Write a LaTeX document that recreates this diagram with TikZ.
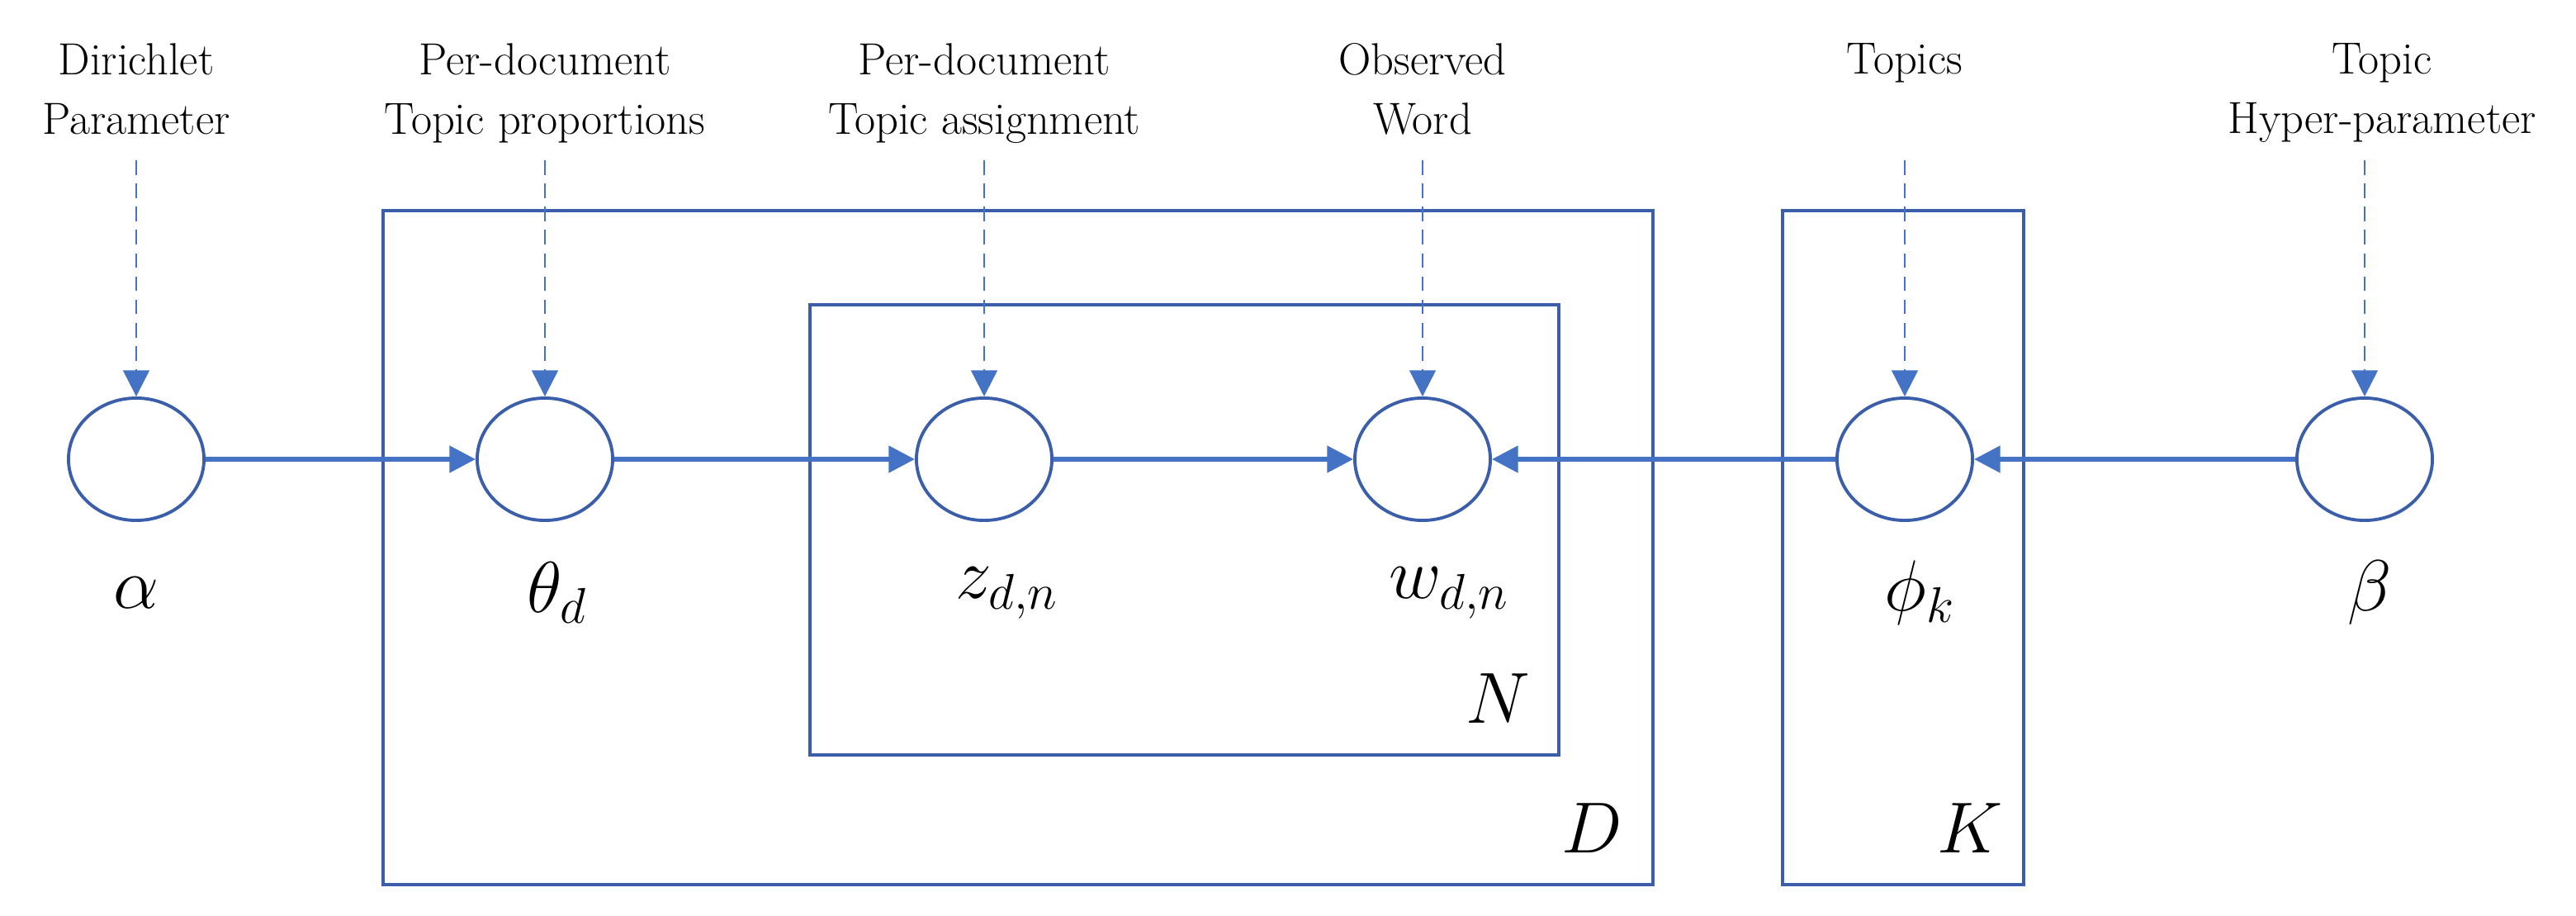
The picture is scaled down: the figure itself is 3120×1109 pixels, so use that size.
\documentclass[tikz,border=0pt]{standalone}
\usetikzlibrary{arrows.meta,shapes.geometric}
\definecolor{arr}{HTML}{4472C4}
\definecolor{edge}{RGB}{59,94,170}
\begin{document}
\begin{tikzpicture}[x=0.01cm,y=-0.01cm,
  var/.style={draw=edge,line width=1.1pt,ellipse,minimum width=1.64cm,minimum height=1.48cm,inner sep=0pt},
  plate/.style={draw=edge,line width=1.1pt},
  flow/.style={draw=arr,line width=1.6pt,-{Triangle[length=9pt,width=9pt]}},
  hint/.style={draw=arr,line width=0.7pt,dash pattern=on 5pt off 3pt,-{Triangle[length=9pt,width=9pt]}},
  captxt/.style={font=\fontsize{15.5}{20.5}\selectfont,align=center,anchor=north},
  lab/.style={font=\fontsize{24}{28}\selectfont}]
\useasboundingbox (0,0) rectangle (3120,1109);
\draw[plate] (464,255) rectangle (2002,1071);
\draw[plate] (981,369) rectangle (1888,914);
\draw[plate] (2159,255) rectangle (2451,1071);
\node[lab] (Dl) at (1928,1003) {$D$};
\node[lab] (Nl) at (1814,846) {$N$};
\node[lab] (Kl) at (2386,1003) {$K$};
\node[var] (a) at (165,556) {};
\node[var] (t) at (660,556) {};
\node[var] (z) at (1192,556) {};
\node[var] (w) at (1723,556) {};
\node[var] (p) at (2307,556) {};
\node[var] (b) at (2864,556) {};
\node[lab] (al) at (165,718) {$\alpha$};
\node[lab] (tl) at (675,718) {$\theta_d$};
\node[lab] (zl) at (1220,718) {$z_{d,n}$};
\node[lab] (wl) at (1755,718) {$w_{d,n}$};
\node[lab] (pl) at (2325,718) {$\phi_k$};
\node[lab] (bl) at (2870,718) {$\beta$};
\node[captxt] (ac) at (165,40) {Dirichlet\\Parameter};
\node[captxt] (tc) at (660,40) {Per-document\\Topic proportions};
\node[captxt] (zc) at (1192,40) {Per-document\\Topic assignment};
\node[captxt] (wc) at (1723,40) {Observed\\Word};
\node[captxt] (pc) at (2307,40) {Topics};
\node[captxt] (bc) at (2885,40) {Topic\\Hyper-parameter};
\foreach \n in {a,t,z,w,p,b}{
  \coordinate (\n0) at (\n.north |- 0,194);
  \draw[hint] (\n0) -- (\n.north);
}
\draw[flow] (a) -- (t);
\draw[flow] (t) -- (z);
\draw[flow] (z) -- (w);
\draw[flow] (p) -- (w);
\draw[flow] (b) -- (p);
\end{tikzpicture}
\end{document}
